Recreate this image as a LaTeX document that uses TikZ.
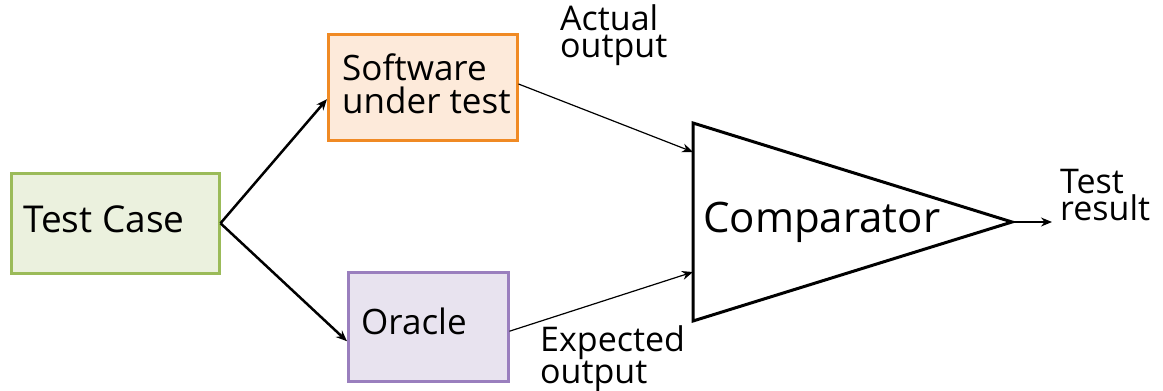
\documentclass[tikz,border=0pt]{standalone}
\usepackage{fontspec}
\setmainfont{Open Sans}
\usetikzlibrary{arrows.meta,calc}
\definecolor{gbd}{HTML}{9BBB59}\definecolor{gfl}{HTML}{EBF1DE}
\definecolor{obd}{HTML}{F08A24}\definecolor{ofl}{HTML}{FDEADA}
\definecolor{pbd}{HTML}{9A7FBE}\definecolor{pfl}{HTML}{E8E3EF}
\tikzset{
  box/.style={draw, line width=2.5pt, anchor=north west, inner sep=0pt},
  txt/.style={inner sep=0pt, anchor=base west, align=left},
  lbl/.style={txt, font=\fontsize{34}{27}\selectfont},
  thick arrow/.style={line width=2.5pt, -{Stealth[length=11pt,width=9pt]}},
  thin arrow/.style={line width=1.2pt, -{Stealth[length=11pt,width=9pt]}},
}
\begin{document}
\begin{tikzpicture}[x=1pt,y=-1pt]
\useasboundingbox (0,0) rectangle (1163,391);
% boxes
\node[box, draw=gbd, fill=gfl, minimum width=208pt, minimum height=100pt] (tc) at (10,172) {};
\node[box, draw=obd, fill=ofl, minimum width=189pt, minimum height=106pt] (sw) at (327,33) {};
\node[box, draw=pbd, fill=pfl, minimum width=160pt, minimum height=109pt] (or) at (347,271) {};
\node[txt, font=\fontsize{37}{40}\selectfont] (tct) at (23,232) {Test Case};
\node[txt, font=\fontsize{35}{33}\selectfont] (swt) at (342,113) {Software\\under test};
\node[txt, font=\fontsize{35}{40}\selectfont] (ort) at (361,334) {Oracle};
% comparator triangle
\coordinate (ct) at (693,123);
\coordinate (cb) at (693,321);
\coordinate (ca) at (1012,222);
\draw[line width=3pt, line join=miter] (ct) -- (ca) -- (cb) -- cycle;
\node[txt, font=\fontsize{42}{45}\selectfont] (cmp) at (703,232) {Comparator};
\coordinate (in1) at (693,152);
\coordinate (in2) at (693,272);
\coordinate (outp) at (1052,222);
% connectors
\draw[thick arrow] (tc.east) -- ($(sw.north west)!0.61!(sw.south west)$);
\draw[thick arrow] (tc.east) -- ($(or.north west)!0.63!(or.south west)$);
\draw[thin arrow] ($(sw.north east)!0.47!(sw.south east)$) -- (in1);
\draw[thin arrow] ($(or.north east)!0.54!(or.south east)$) -- (in2);
\draw[thin arrow] (ca) -- (outp);
% labels
\node[lbl] (ao) at (560,57) {Actual\\output};
\node[lbl, font=\fontsize{34}{25}\selectfont] (eo) at (540,383) {Expected\\output};
\node[lbl] (tr) at (1060,220) {Test\\result};
\end{tikzpicture}
\end{document}
